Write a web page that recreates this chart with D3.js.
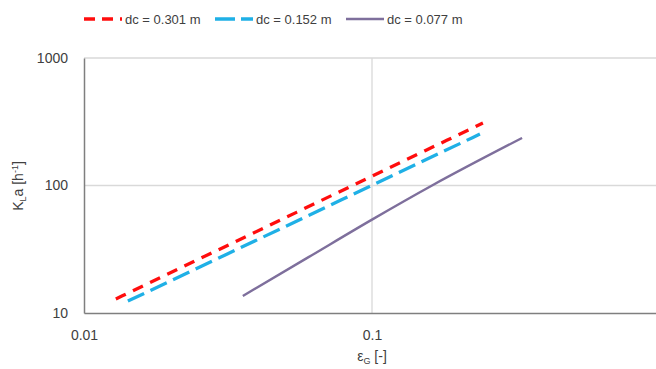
<!DOCTYPE html>
<html><head><meta charset="utf-8">
<script src="https://cdn.jsdelivr.net/npm/d3@7"></script>
<style>body{margin:0;background:#fff}text{font-family:"Liberation Sans","Noto Sans",sans-serif;fill:#404040}</style>
</head><body>
<svg id="c" width="656" height="369"></svg>
<script>
const seriesNames = ["dc = 0.301 m", "dc = 0.152 m", "dc = 0.077 m"];
const red_x = [0.0129, 0.05, 0.1, 0.2427];
const red_y = [12.9, 55.9, 118.4, 309];
const blue_x = [0.0142, 0.03, 0.06, 0.1, 0.237];
const blue_y = [12.4, 27.6, 58.0, 100.4, 253];
const purple_x = [0.0356, 0.06, 0.1, 0.1616, 0.332];
const purple_y = [13.6, 27.3, 54, 100, 236];
const xTicks = [0.01, 0.1, 1];
const yTicks = [10, 100, 1000];

const svg = d3.select("#c");
const x = d3.scaleLog().domain([0.01, 1]).range([84, 660]);
const y = d3.scaleLog().domain([10, 1000]).range([313, 58]);

// gridlines
svg.append("g").selectAll("line").data(yTicks.slice(1)).join("line")
  .attr("x1", x(0.01)).attr("x2", 656).attr("y1", d => y(d)).attr("y2", d => y(d))
  .attr("stroke", "#d9d9d9").attr("stroke-width", 1.3);
svg.append("g").selectAll("line").data(xTicks.slice(1)).join("line")
  .attr("x1", d => x(d)).attr("x2", d => x(d)).attr("y1", y(1000)).attr("y2", y(10))
  .attr("stroke", "#d9d9d9").attr("stroke-width", 1.3);

// axes
const xAxis = d3.axisBottom(x).tickValues(xTicks).tickFormat(d3.format("")).tickSize(0).tickPadding(17);
const gx = svg.append("g").attr("transform", `translate(0,${y(10)})`).call(xAxis);
gx.select(".domain").attr("stroke", "#7f7f7f").attr("stroke-width", 1.5);
gx.selectAll("text").style("font-size", "14px").attr("fill", "#404040");
const yAxis = d3.axisLeft(y).tickValues(yTicks).tickFormat(d3.format("")).tickSize(0).tickPadding(16);
const gy = svg.append("g").attr("transform", `translate(${x(0.01)},0)`).call(yAxis);
gy.select(".domain").attr("stroke", "#7f7f7f").attr("stroke-width", 1.5);
gy.selectAll("text").style("font-size", "14px").attr("fill", "#404040");

// lines
const series = [
  {xs: red_x, ys: red_y, color: "#ff0d0d", dash: "11,8", ldash: "11,7", w: 3.3},
  {xs: blue_x, ys: blue_y, color: "#1fb0e6", dash: "18,7", ldash: "20,6", w: 3.3},
  {xs: purple_x, ys: purple_y, color: "#7e6f9c", dash: null, ldash: null, w: 2.4}
];
const line = d3.line().x(d => x(d[0])).y(d => y(d[1])).curve(d3.curveMonotoneX);
series.forEach(s => {
  svg.append("path").datum(s.xs.map((v, i) => [v, s.ys[i]]))
    .attr("d", line).attr("fill", "none").attr("stroke", s.color)
    .attr("stroke-width", s.w).attr("stroke-dasharray", s.dash);
});

// legend
const legX = [84, 215, 346];
const lg = svg.append("g");
series.forEach((s, i) => {
  lg.append("line").attr("x1", legX[i]).attr("x2", legX[i] + 38).attr("y1", 19).attr("y2", 19)
    .attr("stroke", s.color).attr("stroke-width", s.w).attr("stroke-dasharray", s.ldash);
  lg.append("text").attr("x", legX[i] + 41).attr("y", 23.5).style("font-size", "13px").text(seriesNames[i]);
});

// axis titles
const xt = svg.append("text").attr("x", 372).attr("y", 361).attr("text-anchor", "middle").style("font-size", "14px");
xt.append("tspan").text("ε");
xt.append("tspan").attr("dy", 3).style("font-size", "9px").text("G");
xt.append("tspan").attr("dy", -3).text(" [-]");
const yt = svg.append("text").attr("transform", "translate(23,186) rotate(-90)").attr("text-anchor", "middle").style("font-size", "14px");
yt.append("tspan").text("K");
yt.append("tspan").attr("dy", 3).style("font-size", "9px").text("L");
yt.append("tspan").attr("dy", -3).text("a [h");
yt.append("tspan").attr("dy", -5).style("font-size", "9px").text("-1");
yt.append("tspan").attr("dy", 5).text("]");
</script>
</body></html>
